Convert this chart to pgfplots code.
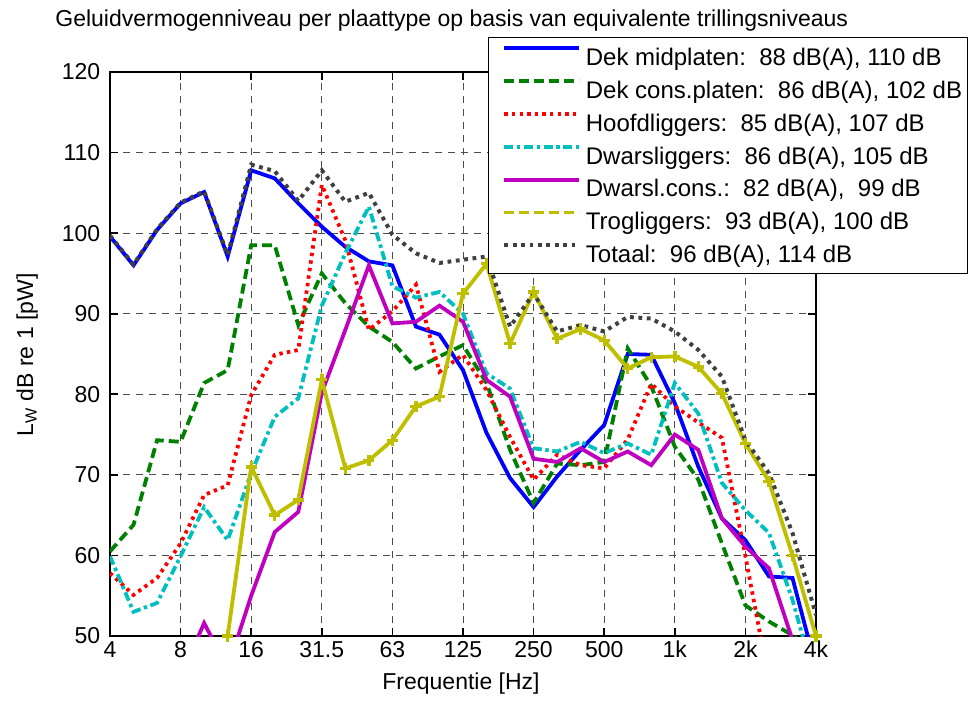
\documentclass[border=0pt]{standalone}
\usepackage{fontspec}
\setmainfont{Liberation Sans}
\usepackage{pgfplots}
\pgfplotsset{compat=1.18}
\usepackage{pgfplotstable}

\definecolor{mblue}{rgb}{0,0,1}
\definecolor{mgreen}{rgb}{0,0.5,0}
\definecolor{mred}{rgb}{1,0,0}
\definecolor{mcyan}{rgb}{0,0.75,0.75}
\definecolor{mmagenta}{rgb}{0.75,0,0.75}
\definecolor{myellow}{rgb}{0.75,0.75,0}
\definecolor{mgray}{rgb}{0.25,0.25,0.25}

% third-octave band index b: 0 = 4 Hz, 3 = 8 Hz, ..., 30 = 4 kHz
\pgfplotstableread{
b L
0 99.6
1 96.0
2 100.4
3 103.7
4 105.1
5 97.1
6 107.8
7 106.8
8 103.7
9 100.8
10 98.3
11 96.5
12 96.0
13 88.4
14 87.4
15 83.0
16 75.2
17 69.6
18 66.0
19 69.8
20 73.1
21 76.2
22 85.0
23 84.9
24 78.9
25 71.0
26 64.6
27 61.9
28 57.4
29 57.2
30 46.1
}\dekmid

\pgfplotstableread{
b L
0 60.5
1 63.8
2 74.3
3 74.1
4 81.4
5 83.0
6 98.5
7 98.5
8 88.6
9 95.0
10 91.3
11 88.4
12 86.5
13 83.2
14 84.7
15 86.1
16 81.4
17 73.1
18 66.5
19 71.4
20 71.2
21 71.6
22 85.7
23 81.0
24 73.5
25 69.4
26 61.5
27 53.8
28 51.8
29 50.1
30 48.0
}\dekcons

\pgfplotstableread{
b L
0 57.8
1 55.1
2 57.2
3 61.5
4 67.5
5 68.7
6 79.9
7 84.9
8 85.5
9 106.0
10 99.1
11 88.0
12 90.3
13 93.6
14 82.8
15 84.9
16 80.5
17 74.7
18 69.4
19 72.5
20 71.2
21 70.8
22 74.4
23 81.3
24 78.5
25 76.5
26 74.6
27 59.9
28 44.4
}\hoofd

\pgfplotstableread{
b L
0 59.9
1 53.0
2 54.1
3 59.9
4 66.0
5 61.9
6 70.2
7 77.2
8 79.5
9 91.0
10 97.5
11 103.3
12 93.4
13 92.0
14 92.7
15 90.0
16 82.6
17 80.7
18 73.3
19 72.9
20 74.1
21 72.7
22 73.9
23 72.5
24 81.4
25 77.6
26 69.0
27 65.6
28 62.8
29 54.5
30 44.0
}\dwars

\pgfplotstableread{
b L
3 45.0
4 51.6
5 46.0
6 55.0
7 62.9
8 65.4
9 80.2
10 88.0
11 96.0
12 88.8
13 89.0
14 91.0
15 89.0
16 81.8
17 79.7
18 72.0
19 71.6
20 73.3
21 71.6
22 72.9
23 71.2
24 75.0
25 73.1
26 64.6
27 61.1
28 58.4
29 49.5
30 40.0
}\dwarscons

\pgfplotstableread{
b L
5 50.0
6 71.0
7 65.0
8 66.9
9 81.8
10 70.8
11 71.8
12 74.3
13 78.5
14 79.7
15 92.5
16 96.2
17 86.3
18 92.7
19 86.9
20 88.1
21 86.7
22 83.2
23 84.6
24 84.7
25 83.4
26 80.1
27 73.9
28 69.2
29 60.0
30 50.0
}\trog

\pgfplotstableread{
b L
0 99.7
1 96.1
2 100.5
3 103.8
4 105.2
5 97.3
6 108.5
7 107.7
8 104.0
9 107.8
10 103.9
11 105.0
12 99.8
13 97.5
14 96.3
15 96.7
16 97.1
17 88.4
18 92.5
19 87.8
20 88.6
21 87.8
22 89.6
23 89.4
24 87.8
25 85.5
26 82.2
27 74.3
28 70.2
29 62.8
30 52.6
}\totaal

\begin{document}
\begin{tikzpicture}
\begin{axis}[
  at={(55pt,33pt)}, anchor=south west,
  scale only axis, width=353pt, height=282pt,
  xmin=0, xmax=30, ymin=50, ymax=120,
  xtick={0,3,...,30},
  xticklabels={4,8,16,31.5,63,125,250,500,1k,2k,4k},
  ytick={50,60,...,120},
  tick align=inside, major tick length=4pt,
  every tick/.style={black, line width=0.8pt},
  axis line style={line width=0.9pt},
  grid=major,
  major grid style={black!70, line width=0.45pt, dash pattern=on 3.5pt off 3pt},
  tick label style={font=\fontsize{11.5}{13}\selectfont},
  /pgf/number format/assume math mode=true,
  xticklabel style={anchor=base, inner sep=0pt, yshift=-10.5pt},
  yticklabel style={anchor=east, inner sep=0pt, xshift=-4.7pt},
  legend cell align=left,
  legend style={
    at={(0.5354,1.0621)}, anchor=north west,
    draw=black, line width=0.6pt, fill=white,
    inner xsep=2.6pt, inner ysep=3pt,
    row sep=3.35pt, column sep=2.3pt,
    font=\fontsize{12}{14}\selectfont,
    nodes={inner sep=0pt, text height=10.9pt, text depth=2.2pt},
  },
  legend image code/.code={
    \path (0pt,0pt);
    \draw[#1] (4.25pt,4.3pt) -- (41.75pt,4.3pt);
  },
]
\addplot[mblue, line width=1.9pt] table[x=b, y=L] {\dekmid};
\addlegendentry{Dek midplaten:\ \ 88 dB(A), 110 dB}
\addplot[mgreen, line width=1.9pt, dash pattern=on 5pt off 2.5pt] table[x=b, y=L] {\dekcons};
\addlegendentry{Dek cons.platen:\ \ 86 dB(A), 102 dB}
\addplot[mred, line width=1.9pt, dash pattern=on 1.7pt off 2.1pt] table[x=b, y=L] {\hoofd};
\addlegendentry{Hoofdliggers:\ \ 85 dB(A), 107 dB}
\addplot[mcyan, line width=1.9pt, dash pattern=on 4.5pt off 1.8pt on 1.7pt off 1.8pt] table[x=b, y=L] {\dwars};
\addlegendentry{Dwarsliggers:\ \ 86 dB(A), 105 dB}
\addplot[mmagenta, line width=1.9pt] table[x=b, y=L] {\dwarscons};
\addlegendentry{Dwarsl.cons.:\ \ 82 dB(A),\ \ 99 dB}
\addplot[myellow, line width=1.9pt, mark=+, mark size=2.8pt,
  mark options={solid, line width=1.7pt},
  legend image code/.code={
    \path (0pt,0pt);
    \draw[myellow, line width=1.9pt, dash pattern=on 5pt off 2.5pt] (4.25pt,4.3pt) -- (41.75pt,4.3pt);
  }] table[x=b, y=L] {\trog};
\addlegendentry{Trogliggers:\ \ 93 dB(A), 100 dB}
\addplot[mgray, line width=2pt, dash pattern=on 1.9pt off 2.3pt] table[x=b, y=L] {\totaal};
\addlegendentry{Totaal:\ \ 96 dB(A), 114 dB}
\end{axis}
\node[anchor=base west, inner sep=0pt, font=\fontsize{11.5}{13}\selectfont] at (27.5pt,337.5pt)
  {Geluidvermogenniveau per plaattype op basis van equivalente trillingsniveaus};
\node[anchor=base, inner sep=0pt, font=\fontsize{11.5}{13}\selectfont] at (230.5pt,6.35pt)
  {Frequentie [Hz]};
\node[anchor=base, rotate=90, inner sep=0pt, font=\fontsize{11.5}{13}\selectfont] at (16.5pt,173.5pt)
  {L\textsubscript{W} dB re 1 [pW]};
\pgfresetboundingbox
\path (0pt,0pt) rectangle (489pt,351pt);
\end{tikzpicture}
\end{document}
